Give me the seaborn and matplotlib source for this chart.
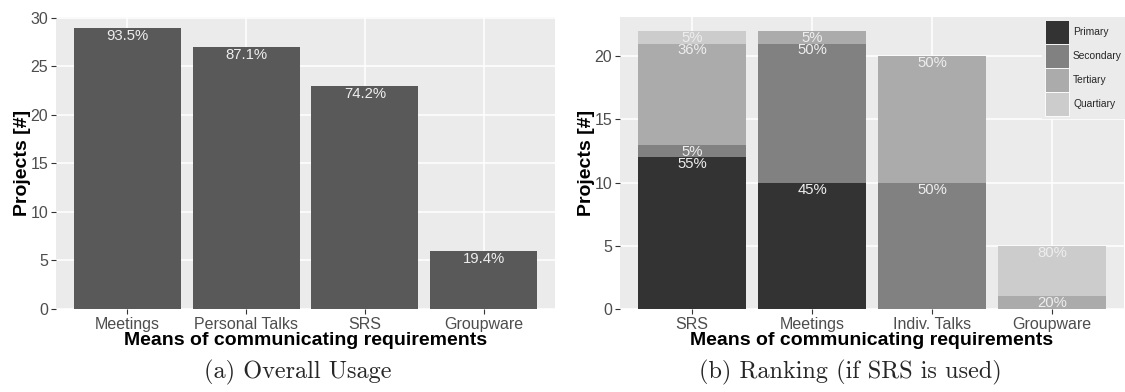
import numpy as np
import pandas as pd
import matplotlib
matplotlib.use("Agg")
import matplotlib.pyplot as plt
import seaborn as sns
from matplotlib.patches import Patch

# (a) overall usage, out of 31 projects
usage_labels = ["Meetings", "Personal Talks", "SRS", "Groupware"]
usage_counts = [29, 27, 23, 6]
n_projects = 31

# (b) ranking (if SRS is used)
rank_labels = ["SRS", "Meetings", "Indiv. Talks", "Groupware"]
rank_levels = ["Primary", "Secondary", "Tertiary", "Quartiary"]
primary = [12, 10, 0, 0]
secondary = [1, 11, 10, 0]
tertiary = [8, 1, 10, 1]
quartiary = [1, 0, 0, 4]
rank_colors = ["#333333", "#818181", "#ABABAB", "#CCCCCC"]

sns.set_style("darkgrid", {"axes.facecolor": "#EBEBEB", "grid.color": "white",
                           "axes.edgecolor": "#EBEBEB"})
plt.rcParams['font.family'] = ['Liberation Sans', 'DejaVu Sans']

W, H = 1125, 392
fig = plt.figure(figsize=(W / 100, H / 100), dpi=100)


def px_axes(x0, y0, x1, y1):
    return fig.add_axes([x0 / W, 1 - y1 / H, (x1 - x0) / W, (y1 - y0) / H])


def style_axes(ax, ymax, ticks):
    ax.set_ylim(0, ymax)
    ax.set_xlim(-0.6, 3.6)
    ax.set_yticks(ticks)
    ax.grid(True, color="white", linewidth=1.1)
    ax.set_axisbelow(True)
    for s in ax.spines.values():
        s.set_visible(False)
    ax.tick_params(axis="both", length=3.5, width=0.8, color="#333333",
                   labelcolor="#4D4D4D", labelsize=11.5, pad=2, left=True, bottom=True)
    ax.set_xlabel("Means of communicating requirements", fontsize=14,
                  fontweight="bold", color="black", labelpad=0)
    ax.set_ylabel("Projects [#]", fontsize=14, fontweight="bold", color="black", labelpad=0)


# ---- left panel
ax1 = px_axes(56, 17, 555, 309)
sns.barplot(x=usage_labels, y=usage_counts, color="#595959", saturation=1,
            width=0.9, linewidth=0, ax=ax1)
for i, v in enumerate(usage_counts):
    ax1.annotate(f"{v / n_projects * 100:.1f}%", (i, v), xytext=(0, -6),
                 textcoords="offset points", ha="center", va="center",
                 color="#EEEEEE", fontsize=10.7)
style_axes(ax1, 30.1, [0, 5, 10, 15, 20, 25, 30])

# ---- right panel: stacked by drawing cumulative totals from the top down
ax2 = px_axes(620, 17, 1124, 309)
layers = np.array([primary, secondary, tertiary, quartiary])
cum = layers.cumsum(axis=0)
totals = cum[-1]
for k in range(len(rank_levels) - 1, -1, -1):
    sns.barplot(x=rank_labels, y=cum[k], color=rank_colors[k], saturation=1,
                width=0.9, linewidth=0, ax=ax2)
for k in range(len(rank_levels)):
    for i in range(len(rank_labels)):
        if layers[k, i] > 0:
            ax2.annotate(f"{layers[k, i] / totals[i] * 100:.0f}%", (i, cum[k, i]),
                         xytext=(0, -5), textcoords="offset points", ha="center",
                         va="center", color="#EEEEEE", fontsize=10.7)
style_axes(ax2, 23.1, [0, 5, 10, 15, 20])

handles = [Patch(facecolor=c, edgecolor="white", linewidth=0.6) for c in rank_colors]
leg = fig.legend(handles, rank_levels, loc="upper right", bbox_to_anchor=(1.0, 1 - 17 / H),
                 frameon=True, fancybox=False, framealpha=1, edgecolor="white",
                 fontsize=7.4, handlelength=2.35, handleheight=3.2, labelspacing=0.0,
                 handletextpad=0.4, borderpad=0.3, borderaxespad=0)
leg.get_frame().set_linewidth(0)

# captions
fig.text(298 / W, 1 - 372 / H, "(a) Overall Usage", family=["cmr10", "DejaVu Serif"],
         fontsize=17.5, ha="center", va="center")
fig.text(850 / W, 1 - 372 / H, "(b) Ranking (if SRS is used)", family=["cmr10", "DejaVu Serif"],
         fontsize=17.5, ha="center", va="center")

fig.savefig("out.png", dpi=100)
